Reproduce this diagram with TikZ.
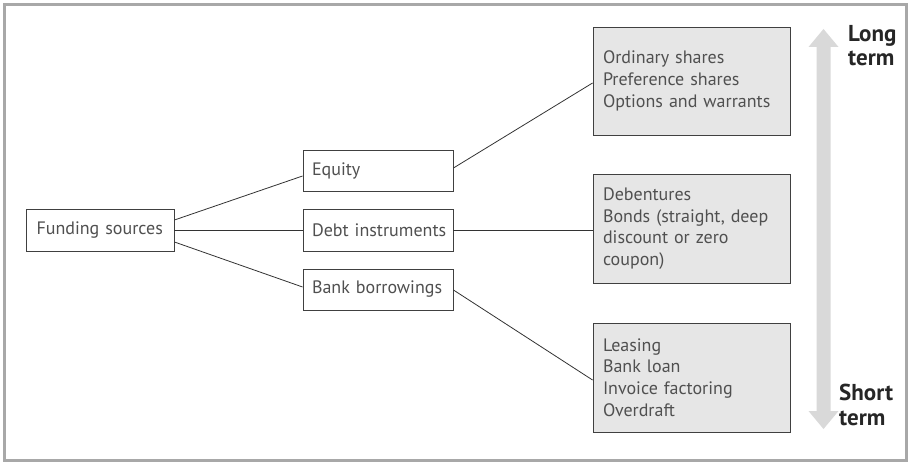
\documentclass[tikz,border=0pt]{standalone}
\usepackage{fontspec}
\setmainfont{PT Sans}
\definecolor{txtgray}{HTML}{505050}
\definecolor{boxfill}{HTML}{E6E6E6}
\definecolor{arrowgray}{HTML}{D9D9D9}
\definecolor{framegray}{HTML}{A8A8A8}
\tikzset{
  smallbox/.style={draw=black!75, line width=0.9pt, fill=white, rectangle,
    minimum width=150pt, minimum height=41pt, inner xsep=9pt, inner ysep=0pt,
    text width=132pt, align=left, font=\fontsize{18}{21}\selectfont, text=txtgray},
  listbox/.style={draw=black!75, line width=0.9pt, fill=boxfill, rectangle,
    minimum width=197pt, minimum height=108pt, inner xsep=10pt, inner ysep=0pt,
    text width=177pt, align=left, font=\fontsize{18}{21.7}\selectfont, text=txtgray},
  link/.style={draw=black!80, line width=0.8pt},
  termlabel/.style={font=\bfseries\fontsize{23}{24.5}\selectfont, text=black!85,
    align=left, anchor=north west, inner sep=0pt}
}
\begin{document}
\begin{tikzpicture}[x=1pt,y=-1pt]
  \useasboundingbox (0,0) rectangle (911,465);
  \fill[white] (0,0) rectangle (911,465);
  % outer frame
  \draw[framegray, line width=3pt] (4.5,4.5) rectangle (906.5,460.5);

  % root and first level (one-line labels kept unbroken)
  \node[smallbox, minimum width=148pt, text width=127pt, inner xsep=10.5pt, minimum height=42pt] (fund) at (100,230) {\mbox{Funding sources}};
  \node[smallbox] (equity) at (378,170.5) {\mbox{Equity}};
  \node[smallbox, minimum height=42pt] (debt) at (378,230) {\mbox{Debt instruments}};
  \node[smallbox] (bank) at (378,289.5) {\mbox{Bank borrowings}};

  % instrument lists
  \node[listbox] (ordinary) at (691.5,81) {Ordinary shares\\Preference shares\\Options and warrants};
  \node[listbox, minimum height=109pt] (bonds) at (691.5,228.5) {Debentures\\Bonds (straight, deep\\discount or zero\\coupon)};
  \node[listbox, minimum height=109pt] (loans) at (691.5,377.5) {Leasing\\Bank loan\\Invoice factoring\\Overdraft};

  % connectors
  \draw[link] ([yshift=10pt]fund.east) -- ([yshift=-5.5pt]equity.west);
  \draw[link] (fund.east) -- (debt.west);
  \draw[link] ([yshift=-12pt]fund.east) -- ([yshift=2.5pt]bank.west);
  \draw[link] ([yshift=2.5pt]equity.east) -- ([yshift=-2pt]ordinary.west);
  \draw[link] (debt.east) -- (debt.east -| bonds.west);
  \draw[link] ([yshift=-0.5pt]bank.east) -- ([yshift=-2.5pt]loans.west);

  % term scale arrow
  \fill[arrowgray] (823.5,29) -- (838.5,47) -- (830.5,47) -- (830.5,411)
    -- (838.5,411) -- (823.5,429) -- (808.5,411) -- (816.5,411)
    -- (816.5,47) -- (808.5,47) -- cycle;
  \node[termlabel] (long) at (848,25) {Long\\term};
  \node[termlabel] (short) at (839,384) {Short\\term};
\end{tikzpicture}
\end{document}
